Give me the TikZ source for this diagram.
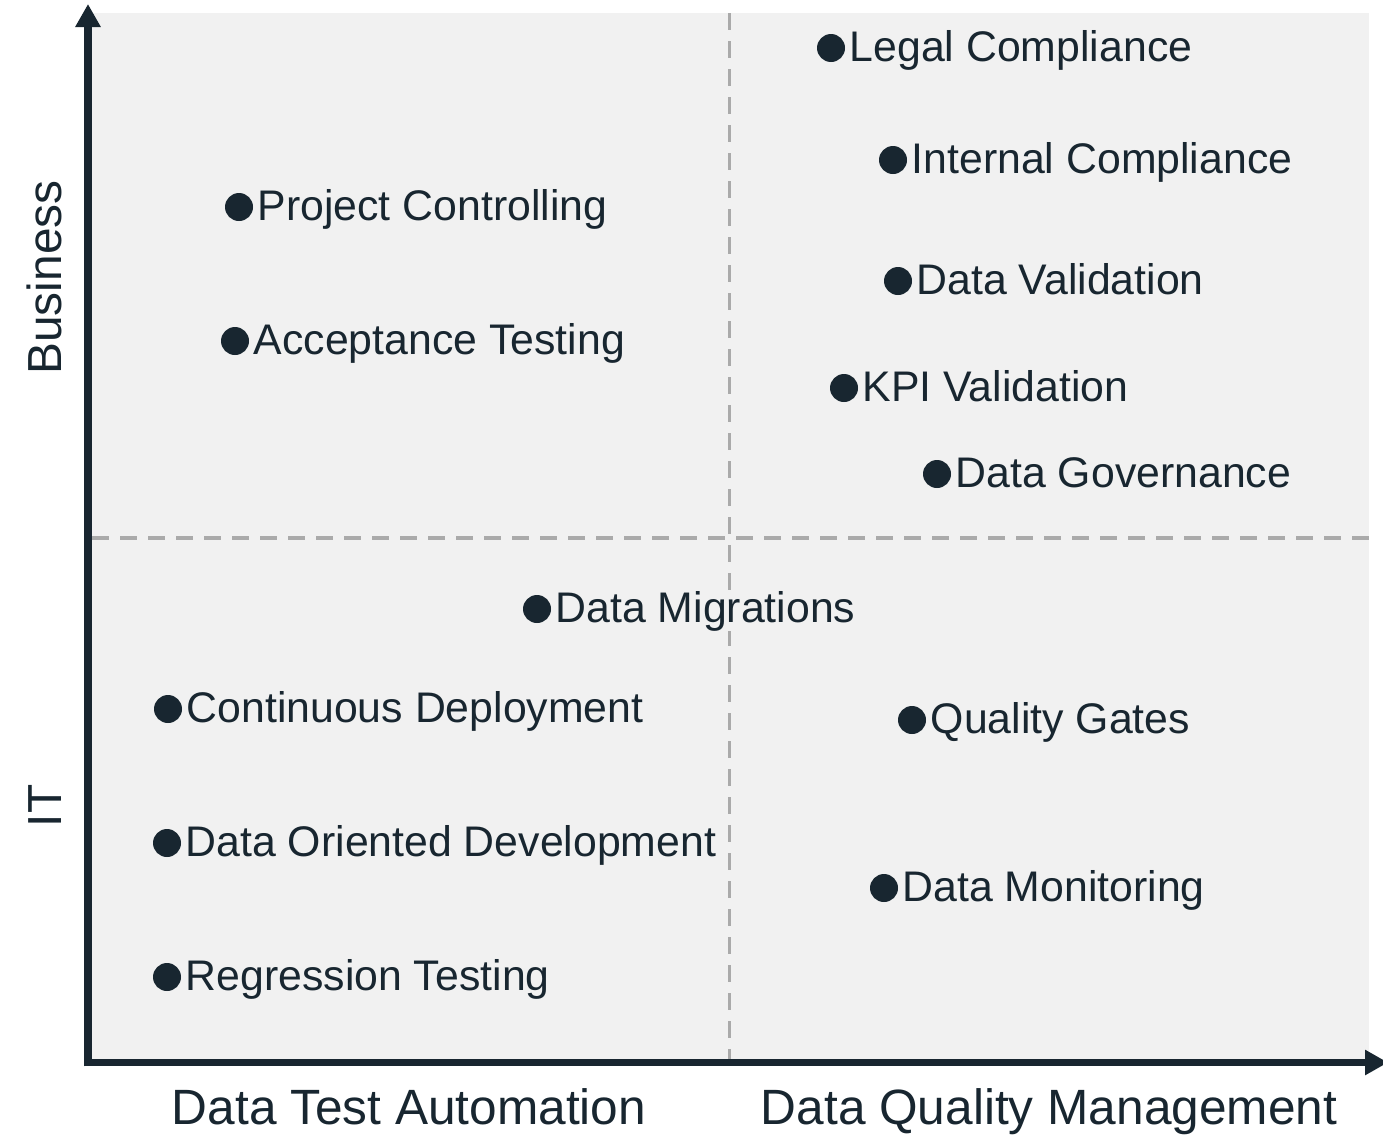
\documentclass[tikz,border=0pt]{standalone}
\usepackage{fontspec}
\setmainfont{Liberation Sans}
\usetikzlibrary{arrows.meta}
\definecolor{ink}{RGB}{24,38,48}
\definecolor{panel}{RGB}{241,241,241}
\definecolor{dashgray}{RGB}{170,170,170}
\tikzset{
  dotmark/.style={circle, fill=ink, draw=none, minimum size=28pt, inner sep=0pt},
  lbl/.style={anchor=base west, text=ink, fill=panel, inner sep=0pt, font=\fontsize{42.8}{50}\selectfont},
  axislbl/.style={text=ink, inner sep=0pt, font=\fontsize{49.6}{60}\selectfont},
  axisline/.style={draw=ink, line width=7.5pt, -{Triangle[length=23pt,width=24pt]}},
  divider/.style={draw=dashgray, line width=3.5pt, dash pattern=on 17pt off 11pt}
}
\newcommand\qitem[4]{%
  \node[dotmark] (#1-dot) at (#2,#3) {};
  \node[lbl] (#1) at ([xshift=18.5pt,yshift=-13pt]#1-dot.center) {#4};
}
\begin{document}
\begin{tikzpicture}[x=1pt,y=-1pt]
\useasboundingbox (0,0) rectangle (1383,1138);
\fill[panel] (88,13) rectangle (1369,1062);
\coordinate (hl) at (92,538);
\coordinate (hr) at (1369,538);
\coordinate (vt) at (729.5,13);
\coordinate (vb) at (729.5,1060);
\draw[divider] (hl) -- (hr);
\draw[divider] (vt) -- (vb);
\coordinate (origin) at (88,1062.5);
\coordinate (ytip) at (88,4);
\coordinate (xtip) at (1388,1062.5);
\draw[axisline] ([yshift=-3.75pt]origin) -- (ytip);
\draw[axisline] ([xshift=-3.75pt]origin) -- (xtip);
\qitem{legal}{831}{48}{Legal Compliance}
\qitem{internal}{893}{160}{Internal Compliance}
\qitem{project}{239}{207}{Project Controlling}
\qitem{validation}{898}{281}{Data Validation}
\qitem{acceptance}{235}{341}{Acceptance Testing}
\qitem{kpi}{844}{388}{KPI Validation}
\qitem{governance}{937}{474}{Data Governance}
\qitem{migrations}{537}{609}{Data Migrations}
\qitem{cd}{168}{709}{Continuous Deployment}
\qitem{gates}{912}{720}{Quality Gates}
\qitem{dod}{167}{843}{Data Oriented Development}
\qitem{monitoring}{884}{888}{Data Monitoring}
\qitem{regression}{167}{977}{Regression Testing}
\node[axislbl, anchor=base] (xl1) at (409,1124) {Data Test Automation};
\node[axislbl, anchor=base] (xl2) at (1049,1124) {Data Quality Management};
\node[axislbl, anchor=base, rotate=90, font=\fontsize{47.8}{57}\selectfont] (yl1) at (61,277.5) {Business};
\node[axislbl, anchor=base, rotate=90, font=\fontsize{47.8}{57}\selectfont] (yl2) at (61,806) {IT};
\end{tikzpicture}
\end{document}
